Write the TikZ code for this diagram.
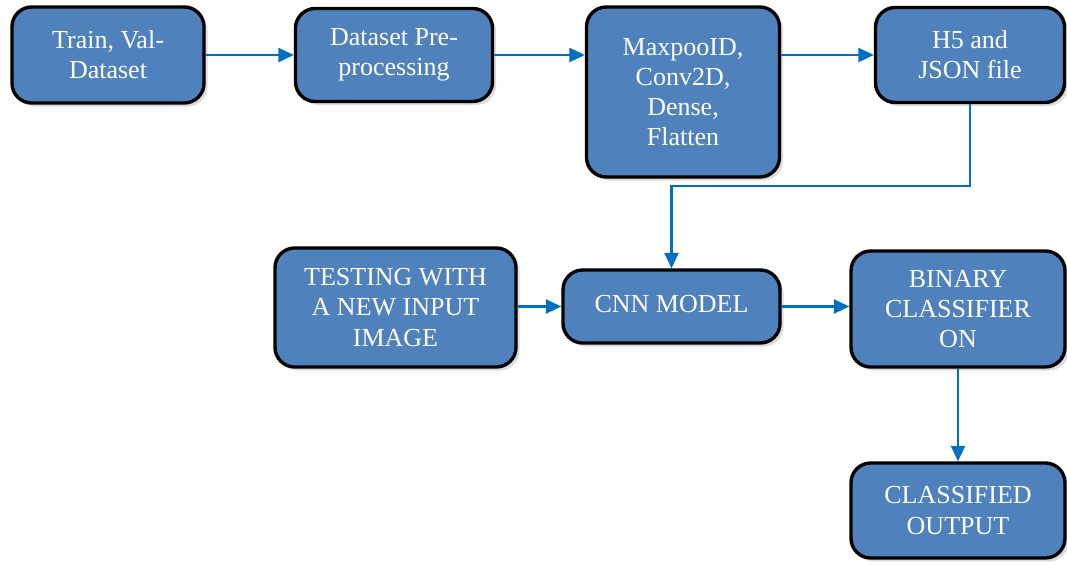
\documentclass[tikz,border=0pt]{standalone}
\usepackage{fontspec}
\setmainfont{Liberation Serif}
\usetikzlibrary{arrows.meta,shadows}

\definecolor{boxblue}{HTML}{4F81BD}
\definecolor{linkblue}{HTML}{0070C0}

\tikzset{
  stagebox/.style={draw=black, line width=2.4pt, fill=boxblue, rounded corners=14pt,
    text=white, align=center, font=\fontsize{18.5}{21.5}\selectfont,
    drop shadow={shadow xshift=2.5pt, shadow yshift=-2.5pt, fill=gray!55}},
  link/.style={draw=linkblue, line width=1.6pt, -{Triangle[length=11pt,width=10pt]}}
}

\begin{document}
\begin{tikzpicture}
		\useasboundingbox (0,0) rectangle (26.675,14.125);
		% top row
		\node [stagebox, minimum width=4.8cm, minimum height=2.4cm] (trainval) at (2.7,12.75) {Train, Val-\\Dataset};
		\node [stagebox, minimum width=4.925cm, minimum height=2.325cm] (preproc) at (9.85,12.75) {Dataset Pre-\\processing};
		\node [stagebox, minimum width=4.825cm, minimum height=4.25cm] (layers) at (17.075,11.825) {MaxpooID,\\Conv2D,\\Dense,\\Flatten};
		\node [stagebox, minimum width=4.725cm, minimum height=2.375cm] (hfive) at (24.25,12.75) {H5 and\\JSON file};
		% middle row
		\node [stagebox, minimum width=6.025cm, minimum height=2.975cm] (testing) at (9.8875,6.4375) {TESTING WITH\\A NEW INPUT\\IMAGE};
		\node [stagebox, minimum width=5.425cm, minimum height=1.825cm] (cnn) at (16.7875,6.4625) {\raisebox{4pt}{CNN MODEL}};
		\node [stagebox, minimum width=5.35cm, minimum height=2.9cm] (binary) at (23.95,6.4) {BINARY\\CLASSIFIER\\ON};
		% bottom
		\node [stagebox, minimum width=5.35cm, minimum height=2.375cm] (classified) at (23.95,1.3625) {CLASSIFIED\\OUTPUT};
		\coordinate (bend) at (24.25,9.475);
		% connectors
		\draw [link] (trainval.east) -- (preproc.west);
		\draw [link] (preproc.east) -- (layers.west |- preproc.east);
		\draw [link] (layers.east |- hfive.west) -- (hfive.west);
		\draw [link] (hfive.south) -- (bend) -| (cnn.north);
		\draw [link] (testing.east |- cnn.west) -- (cnn.west);
		\draw [link] (cnn.east) -- (binary.west |- cnn.east);
		\draw [link] (binary.south) -- (classified.north);
		\end{tikzpicture}
\end{document}
